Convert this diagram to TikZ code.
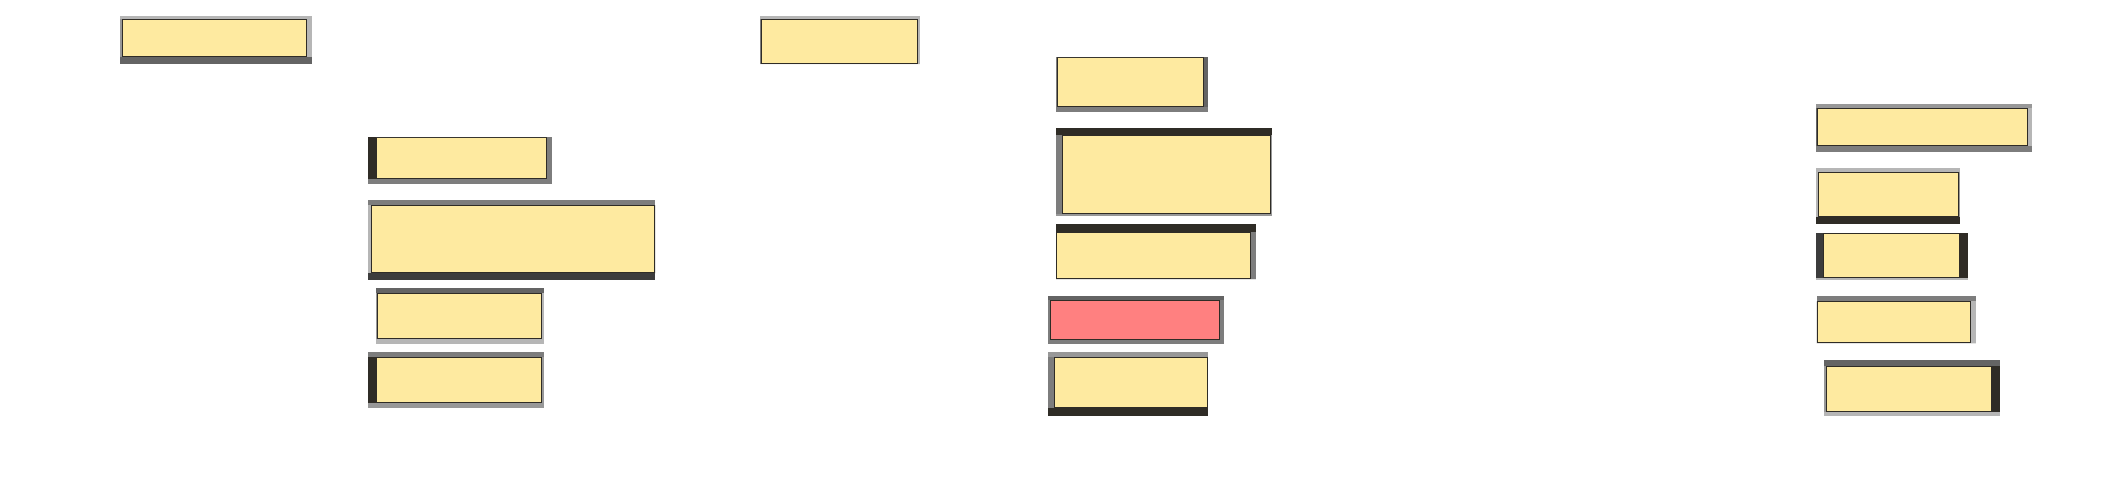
\documentclass[tikz,border=0pt]{standalone}
\usepackage{xcolor}
\usepackage{tikz}
\usetikzlibrary{positioning,calc}

\definecolor{paneltan}{RGB}{254,234,160}
\definecolor{panelred}{RGB}{255,128,128}
\definecolor{rimink}{RGB}{47,44,38}
\definecolor{rimcoal}{RGB}{60,60,60}
\definecolor{rimdark}{RGB}{100,100,100}
\definecolor{rimmid}{RGB}{125,125,125}
\definecolor{rimsoft}{RGB}{152,152,152}
\definecolor{rimpale}{RGB}{182,182,182}

% rim round a panel: node, then left/top/right/bottom as colour and width
\newcommand{\rim}[9]{%
  \fill[#4] ([xshift=-#3pt,yshift=#5pt]#1.north west) rectangle ([xshift=#7pt]#1.north east);
  \fill[#8] ([xshift=-#3pt]#1.south west) rectangle ([xshift=#7pt,yshift=-#9pt]#1.south east);
  \fill[#2] (#1.north west) rectangle ([xshift=-#3pt]#1.south west);
  \fill[#6] (#1.north east) rectangle ([xshift=#7pt]#1.south east);
}

\begin{document}
\begin{tikzpicture}[
    x=1pt, y=-1pt,
    panel/.style={rectangle, draw=rimink, fill=paneltan, line width=1pt, inner sep=0pt},
    alert/.style={panel, fill=panelred}
]
    \useasboundingbox (0,0) rectangle (2118,488);

    % top row
    \node[panel, minimum width=184pt, minimum height=37pt] (head1) at (214.8,38.3) {};
    \node[panel, minimum width=155.5pt, minimum height=43.5pt] (head2) at (839.3,41.3) {};

    % left column
    \node[panel, minimum width=170.6pt, minimum height=41.3pt] (left1) at (461.5,157.9) {};
    \node[panel, minimum width=283pt, minimum height=67.3pt] (left2) at (513.3,239.2) {};
    \node[panel, minimum width=163.4pt, minimum height=45pt] (left3) at (459.5,316.3) {};
    \node[panel, minimum width=165pt, minimum height=45pt] (left4) at (458.7,379.7) {};

    % middle column
    \node[panel, minimum width=145.7pt, minimum height=49pt] (mid1) at (1130.7,81.7) {};
    \node[panel, minimum width=208pt, minimum height=78.3pt] (mid2) at (1166.2,174.7) {};
    \node[panel, minimum width=194.3pt, minimum height=46.3pt] (mid3) at (1153.7,255.4) {};
    \node[alert, minimum width=169pt, minimum height=39pt] (mid4) at (1135,319.7) {};
    \node[panel, minimum width=152.7pt, minimum height=50.6pt] (mid5) at (1130.9,382.5) {};

    % right column
    \node[panel, minimum width=210pt, minimum height=37pt] (right1) at (1922.2,126.7) {};
    \node[panel, minimum width=139.7pt, minimum height=43.7pt] (right2) at (1888.7,194.4) {};
    \node[panel, minimum width=136.6pt, minimum height=44pt] (right3) at (1891.5,255.2) {};
    \node[panel, minimum width=153pt, minimum height=41pt] (right4) at (1893.7,322.3) {};
    \node[panel, minimum width=164.7pt, minimum height=45.6pt] (right5) at (1908.9,389) {};

    % rims
    \rim{head1}{rimsoft}{2.3}{rimpale}{3}{rimpale}{4.3}{rimdark}{6.3}
    \rim{head2}{rimmid}{1}{rimpale}{3}{rimpale}{2.7}{rimpale}{0}
    \rim{left1}{rimink}{7.7}{rimmid}{0}{rimmid}{4.7}{rimmid}{5}
    \rim{left2}{rimpale}{3.3}{rimmid}{4.7}{rimink}{0}{rimcoal}{6.7}
    \rim{left3}{rimsoft}{1.3}{rimdark}{5.3}{rimpale}{2.3}{rimpale}{4.7}
    \rim{left4}{rimink}{7.7}{rimmid}{4.7}{rimsoft}{2.3}{rimsoft}{5.3}
    \rim{mid1}{rimmid}{1.3}{rimmid}{0}{rimdark}{3.7}{rimmid}{5}
    \rim{mid2}{rimmid}{5.7}{rimink}{7.3}{rimsoft}{1.3}{rimsoft}{1.3}
    \rim{mid3}{rimink}{0}{rimink}{7.7}{rimmid}{4.7}{rimink}{0}
    \rim{mid4}{rimmid}{2}{rimdark}{4}{rimmid}{4}{rimmid}{4}
    \rim{mid5}{rimmid}{6}{rimsoft}{5}{rimink}{0}{rimink}{7.3}
    \rim{right1}{rimdark}{0.7}{rimsoft}{3.7}{rimpale}{4}{rimmid}{6}
    \rim{right2}{rimpale}{2.3}{rimpale}{4}{rimsoft}{1}{rimink}{7.3}
    \rim{right3}{rimcoal}{6.7}{rimink}{0}{rimink}{7.3}{rimpale}{2.3}
    \rim{right4}{rimink}{0}{rimmid}{5.3}{rimpale}{5}{rimink}{0}
    \rim{right5}{rimsoft}{2}{rimdark}{5.7}{rimink}{8.3}{rimpale}{3.3}
\end{tikzpicture}
\end{document}
